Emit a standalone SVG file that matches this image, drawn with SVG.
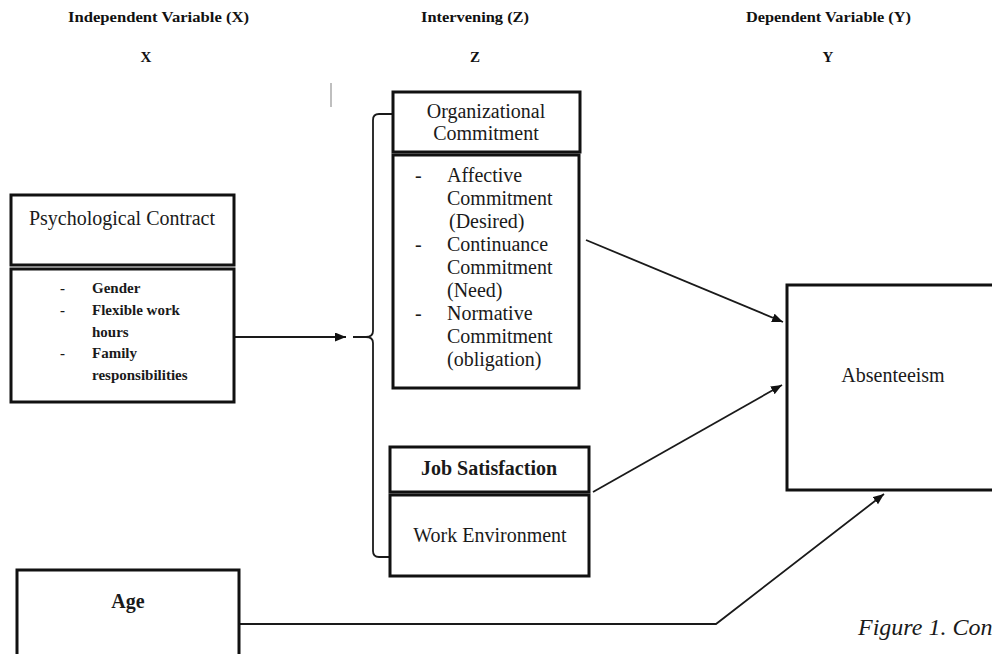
<svg xmlns="http://www.w3.org/2000/svg" width="992" height="654" viewBox="0 0 992 654">
  <style>
    .box { fill: #ffffff; stroke: #111111; stroke-width: 3; }
    .link { fill: none; stroke: #1a1a1a; stroke-width: 1.8; }
    .hdr { font-family: "Liberation Serif", "Times New Roman", serif; font-weight: bold; font-size: 15px; fill: #111111; }
    .t20 { font-family: "Liberation Serif", "Times New Roman", serif; font-size: 20px; fill: #1a1a1a; }
    .b15 { font-family: "Liberation Serif", "Times New Roman", serif; font-weight: bold; font-size: 15px; fill: #1a1a1a; }
    .mid { text-anchor: middle; }
  </style>
  <defs>
    <marker id="arrow" markerUnits="userSpaceOnUse" markerWidth="12" markerHeight="10" refX="11" refY="4.5" orient="auto">
      <path d="M0,0 L11,4.5 L0,9 Z" fill="#111111"/>
    </marker>
  </defs>
  <rect width="992" height="654" fill="#ffffff"/>

  <!-- column headings -->
  <g id="headings">
    <text class="hdr" x="68" y="22" textLength="181" lengthAdjust="spacingAndGlyphs">Independent Variable (X)</text>
    <text class="hdr" x="421" y="22" textLength="108" lengthAdjust="spacingAndGlyphs">Intervening (Z)</text>
    <text class="hdr" x="746" y="22" textLength="165" lengthAdjust="spacingAndGlyphs">Dependent Variable (Y)</text>
    <text class="hdr mid" x="146" y="62">X</text>
    <text class="hdr mid" x="475" y="62">Z</text>
    <text class="hdr mid" x="828" y="62">Y</text>
  </g>

  <!-- short stray rule -->
  <line x1="331" y1="83" x2="331" y2="107" stroke="#aaaaaa" stroke-width="1.5"/>

  <!-- connectors -->
  <g id="connectors">
    <line class="link" x1="234" y1="337" x2="346" y2="337" marker-end="url(#arrow)"/>
    <!-- grouping brace -->
    <path class="link" d="M393,114 L379,114 Q373,114 373,120 L373,331 Q373,337 366,337 L353,337 M366,337 Q373,337 373,343 L373,551 Q373,557 379,557 L393,557"/>
    <line class="link" x1="586" y1="240" x2="783" y2="322" marker-end="url(#arrow)"/>
    <line class="link" x1="593" y1="492" x2="782" y2="385" marker-end="url(#arrow)"/>
    <polyline class="link" points="239,624 716,624 884,494" marker-end="url(#arrow)"/>
  </g>

  <!-- Psychological Contract -->
  <g id="psychological-contract">
    <rect class="box" x="11" y="195" width="223" height="70"/>
    <rect class="box" x="11" y="269" width="223" height="133"/>
    <text class="t20 mid" x="122" y="225">Psychological Contract</text>
    <text class="b15" x="60" y="293">-</text>
    <text class="b15" x="92" y="293">Gender</text>
    <text class="b15" x="60" y="315">-</text>
    <text class="b15" x="92" y="315">Flexible work</text>
    <text class="b15" x="92" y="337">hours</text>
    <text class="b15" x="60" y="358">-</text>
    <text class="b15" x="92" y="358">Family</text>
    <text class="b15" x="92" y="380">responsibilities</text>
  </g>

  <!-- Organizational Commitment -->
  <g id="organizational-commitment">
    <rect class="box" x="393" y="92" width="187" height="60"/>
    <rect class="box" x="393" y="155" width="186" height="233"/>
    <text class="t20 mid" x="486" y="118">Organizational</text>
    <text class="t20 mid" x="486" y="140">Commitment</text>
    <text class="t20" x="415" y="182">-</text>
    <text class="t20" x="447" y="182">Affective</text>
    <text class="t20" x="447" y="205">Commitment</text>
    <text class="t20" x="449" y="228">(Desired)</text>
    <text class="t20" x="415" y="251">-</text>
    <text class="t20" x="447" y="251">Continuance</text>
    <text class="t20" x="447" y="274">Commitment</text>
    <text class="t20" x="447" y="297">(Need)</text>
    <text class="t20" x="415" y="320">-</text>
    <text class="t20" x="447" y="320">Normative</text>
    <text class="t20" x="447" y="343">Commitment</text>
    <text class="t20" x="447" y="366">(obligation)</text>
  </g>

  <!-- Job Satisfaction / Work Environment -->
  <g id="job-satisfaction">
    <rect class="box" x="390" y="447" width="199" height="45"/>
    <rect class="box" x="390" y="495" width="199" height="81"/>
    <text class="t20 mid" x="489" y="475" font-weight="bold" font-size="18.5">Job Satisfaction</text>
    <text class="t20 mid" x="490" y="542">Work Environment</text>
  </g>

  <!-- Absenteeism -->
  <g id="absenteeism">
    <rect class="box" x="787" y="285" width="230" height="205"/>
    <text class="t20 mid" x="893" y="382">Absenteeism</text>
  </g>

  <!-- Age -->
  <g id="age">
    <rect class="box" x="17" y="570" width="222" height="110"/>
    <text class="t20 mid" x="128" y="608" font-weight="bold" font-size="17">Age</text>
  </g>

  <!-- caption -->
  <text x="858" y="635" font-family="'Liberation Serif', 'Times New Roman', serif" font-style="italic" font-size="24" fill="#1a1a1a">Figure 1. Con</text>
</svg>
